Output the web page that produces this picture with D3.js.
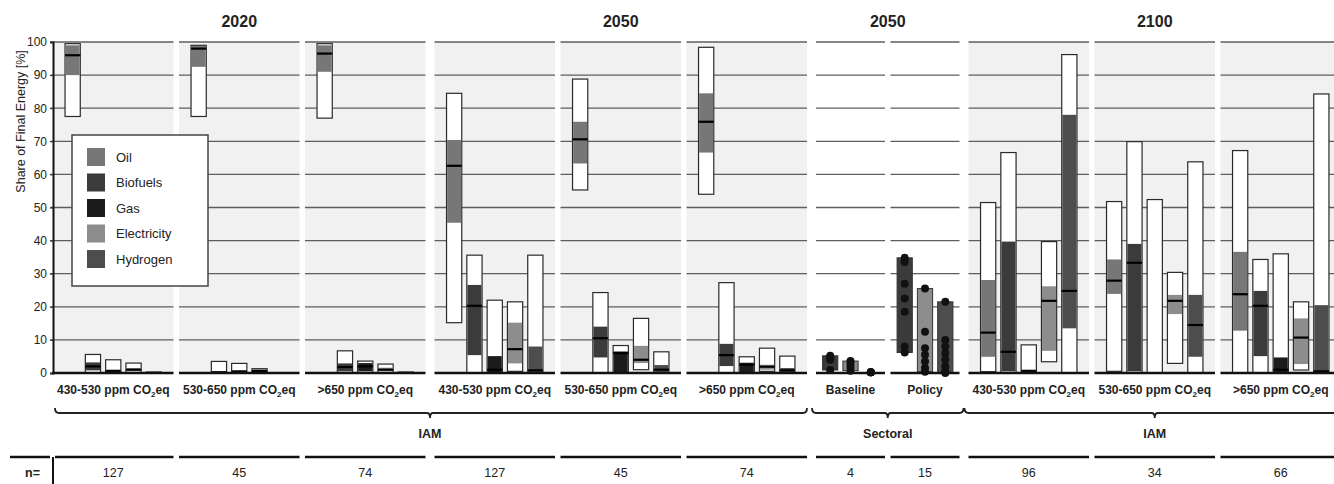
<!DOCTYPE html>
<html><head><meta charset="utf-8">
<script src="https://cdn.jsdelivr.net/npm/d3@7"></script>
<style>
body{margin:0;background:#fff;}
svg{display:block;font-family:"Liberation Sans",Arial,sans-serif;}
</style></head><body>
<svg id="chart" width="1334" height="484"></svg>
<script>
// ---------------- DATA ----------------
const fuels = ["Oil", "Biofuels", "Gas", "Electricity", "Hydrogen"];
const sectoralFuels = ["Biofuels", "Electricity", "Hydrogen"];
const yTicks = [0, 10, 20, 30, 40, 50, 60, 70, 80, 90, 100];

const panelTitles = ["2020", "2050", "2050", "2100"];
const groupPanel = [0, 0, 0, 1, 1, 1, 2, 2, 3, 3, 3];
const groupLabels = ["430-530 ppm CO|eq", "530-650 ppm CO|eq", ">650 ppm CO|eq",
                     "430-530 ppm CO|eq", "530-650 ppm CO|eq", ">650 ppm CO|eq",
                     "Baseline", "Policy",
                     "430-530 ppm CO|eq", "530-650 ppm CO|eq", ">650 ppm CO|eq"];
const nValues = [127, 45, 74, 127, 45, 74, 4, 15, 96, 34, 66];

// box stats per fuel: [min, q25, median, q75, max]  (% of final energy)
const iam2020_430 = [[77.5, 90, 96, 99, 99.5], [0, 0.8, 2, 3.2, 5.6], [0, 0.2, 0.5, 1, 4.0], [0, 0.5, 1, 1.5, 3.0], [0, 0, 0, 0.2, 0.3]];
const iam2020_530 = [[77.5, 92.5, 98, 98.8, 99], [0, 0, 0.2, 0.5, 3.5], [0, 0.2, 0.4, 0.8, 2.9], [0, 0.3, 0.6, 1.2, 1.3], [0, 0, 0, 0, 0]];
const iam2020_650 = [[77, 91, 96.5, 99, 99.5], [0, 0.5, 1.8, 2.9, 6.7], [0, 0.5, 2, 3, 3.6], [0, 0.5, 1, 1.6, 2.7], [0, 0, 0, 0.2, 0.3]];
const iam2050_430 = [[15.2, 45.4, 62.6, 70.4, 84.5], [0, 5.4, 20.3, 26.6, 35.6], [0, 0, 1, 5.1, 22], [0.5, 2.9, 7.2, 15.2, 21.5], [0, 0, 0.8, 8, 35.6]];
const iam2050_530 = [[55.3, 63.3, 70.6, 75.9, 88.8], [0, 4.7, 10.5, 14, 24.3], [0, 0, 6, 6.5, 8.3], [1, 3, 4, 8.2, 16.5], [0, 0, 1, 2.4, 6.4]];
const iam2050_650 = [[54, 66.6, 75.9, 84.5, 98.4], [0, 2.1, 5.4, 8.8, 27.3], [0, 0.3, 2.5, 3.1, 4.9], [0.5, 1, 1.9, 2.5, 7.5], [0, 0, 0.8, 1.5, 5.1]];
const iam2100_430 = [[0.4, 4.9, 12.2, 28.1, 51.5], [0, 0.5, 6.4, 39.7, 66.6], [0, 0, 0.5, 1, 8.5], [3.4, 6.7, 21.8, 26.2, 39.7], [0, 13.5, 24.8, 78, 96.2]];
const iam2100_530 = [[0.5, 23.9, 27.9, 34.3, 51.8], [0, 0.5, 33.3, 39, 69.9], [0, 0, 0, 0.3, 52.4], [2.9, 17.8, 21.8, 23.6, 30.4], [0, 4.9, 14.5, 23.6, 63.8]];
const iam2100_650 = [[0, 12.8, 23.8, 36.6, 67.2], [0, 5.1, 20.3, 24.8, 34.3], [0, 0, 1, 4.7, 36], [0.9, 2.7, 10.7, 16.5, 21.5], [0, 0, 0.5, 20.5, 84.3]];

// sectoral studies: individual values per fuel (Biofuels, Electricity, Hydrogen)
const sectoralBaseline = [[5.2, 4.6, 4.0, 0.9], [3.6, 2.8, 1.8, 0.7], [0.2, 0.2, 0.2, 0.2]];
const sectoralPolicy = [[34.8, 33.5, 27, 22.5, 18.5, 8, 6.2], [25.5, 12.5, 7.5, 5.5, 3.5, 1.5, 0.4], [21.5, 10, 8, 6, 4, 2, 0.5, 0]];

const brackets = [{ label: "IAM", from: 0, to: 5 }, { label: "Sectoral", from: 6, to: 7 }, { label: "IAM", from: 8, to: 10 }];

const fuelColors = { Oil: "#777777", Biofuels: "#3b3b3b", Gas: "#1b1b1b", Electricity: "#8d8d8d", Hydrogen: "#4d4d4d" };

// ---------------- TABLE ----------------
const iamStats = [iam2020_430, iam2020_530, iam2020_650, iam2050_430, iam2050_530, iam2050_650,
                  null, null, iam2100_430, iam2100_530, iam2100_650];
const sectoralStats = { 6: sectoralBaseline, 7: sectoralPolicy };
const groups = groupLabels.map((label, i) => ({
  label, panel: groupPanel[i], n: nValues[i],
  sectoral: iamStats[i] === null,
  fuels: iamStats[i] === null ? sectoralFuels : fuels,
  stats: iamStats[i], dots: sectoralStats[i]
}));

// ---------------- LAYOUT ----------------
const svg = d3.select("#chart");
const X0 = 53, W_IAM = 120.5, W_SEC = 69, GAP_IN = 5.5, GAP_OUT = 9, STEP = 20.3;
let cur = X0;
groups.forEach((g, i) => {
  if (i > 0) cur += (g.panel !== groups[i - 1].panel) ? GAP_OUT : GAP_IN;
  g.x0 = cur; g.x1 = cur + (g.sectoral ? W_SEC : W_IAM); cur = g.x1;
  g.cx = (g.x0 + g.x1) / 2;
  const nb = g.fuels.length;
  g.band = d3.scaleBand().domain(g.fuels)
    .range([g.cx - nb * STEP / 2, g.cx + nb * STEP / 2])
    .paddingInner(0.25).paddingOuter(0.125);
});

const y = d3.scaleLinear().domain([0, 100]).range([373, 42]);

// background wash for IAM panels
svg.append("g").selectAll("rect").data(groups.filter(g => !g.sectoral)).join("rect")
  .attr("x", g => g.x0).attr("width", g => g.x1 - g.x0)
  .attr("y", y(100)).attr("height", y(0) - y(100))
  .attr("fill", "#f1f1f1");

// gridlines per group
const grid = svg.append("g");
groups.forEach((g, i) => {
  grid.selectAll(null).data(yTicks.filter(t => t > 0)).join("line")
    .attr("x1", i === 0 ? X0 - 3 : g.x0).attr("x2", g.x1)
    .attr("y1", t => y(t)).attr("y2", t => y(t))
    .attr("stroke", "#5e5e5e").attr("stroke-width", 1.3);
});

// y axis
const yAxis = svg.append("g").attr("transform", `translate(${X0},0)`)
  .call(d3.axisLeft(y).tickValues(yTicks).tickSize(3).tickPadding(3));
yAxis.select(".domain").attr("stroke", "#111").attr("stroke-width", 2);
yAxis.selectAll(".tick line").attr("stroke", "#333");
yAxis.selectAll(".tick text").attr("font-size", 12).attr("fill", "#222")
  .attr("font-family", "Liberation Sans, Arial, sans-serif");

svg.append("text")
  .attr("transform", `translate(25,${(y(100) + y(52)) / 2}) rotate(-90)`)
  .attr("text-anchor", "middle").attr("font-size", 12.5).attr("fill", "#222")
  .text("Share of Final Energy [%]");

// boxes (IAM)
const marks = svg.append("g");
groups.filter(g => !g.sectoral).forEach(g => {
  g.fuels.forEach((f, k) => {
    const [mn, q1, md, q3, mx] = g.stats[k];
    if (mx <= 0) return;
    const bx = g.band(f), bw = g.band.bandwidth();
    marks.append("rect").attr("x", bx).attr("width", bw)
      .attr("y", y(mx)).attr("height", Math.max(0.8, y(mn) - y(mx)))
      .attr("fill", "#fff").attr("stroke", "#2a2a2a").attr("stroke-width", 1.2);
    if (q3 > q1) marks.append("rect").attr("x", bx + 0.6).attr("width", bw - 1.2)
      .attr("y", y(q3)).attr("height", y(q1) - y(q3))
      .attr("fill", fuelColors[f]);
    if (md > 0) marks.append("line").attr("x1", bx).attr("x2", bx + bw)
      .attr("y1", y(md)).attr("y2", y(md))
      .attr("stroke", "#000").attr("stroke-width", 2.2);
  });
});

// sectoral ranges + dots
groups.filter(g => g.sectoral).forEach(g => {
  g.fuels.forEach((f, k) => {
    const vals = g.dots[k];
    const [mn, mx] = d3.extent(vals);
    const bx = g.band(f), bw = g.band.bandwidth();
    if (mx - mn > 0.5) marks.append("rect").attr("x", bx).attr("width", bw)
      .attr("y", y(mx)).attr("height", y(mn) - y(mx))
      .attr("fill", fuelColors[f]).attr("stroke", "#333").attr("stroke-width", 1);
    marks.selectAll(null).data(vals).join("circle")
      .attr("cx", bx + bw / 2).attr("cy", v => y(v)).attr("r", 4)
      .attr("fill", "#111");
  });
});

// zero lines per group
groups.forEach((g, i) => {
  svg.append("line").attr("x1", i === 0 ? X0 - 1 : g.x0).attr("x2", g.x1)
    .attr("y1", y(0)).attr("y2", y(0))
    .attr("stroke", "#111").attr("stroke-width", 2.6);
});

// panel titles
panelTitles.forEach((t, p) => {
  const gs = groups.filter(g => g.panel === p);
  svg.append("text").attr("x", (gs[0].x0 + gs[gs.length - 1].x1) / 2).attr("y", 27)
    .attr("text-anchor", "middle").attr("font-size", 16).attr("font-weight", "bold")
    .attr("fill", "#222").text(t);
});

// group labels
groups.forEach(g => {
  const t = svg.append("text").attr("x", g.cx).attr("y", 394)
    .attr("text-anchor", "middle").attr("font-size", 12).attr("font-weight", "bold")
    .attr("fill", "#222");
  const parts = g.label.split("|");
  t.append("tspan").text(parts[0]);
  if (parts.length > 1) {
    t.append("tspan").attr("font-size", 8).attr("dy", 3).text("2");
    t.append("tspan").attr("dy", -3).text(parts[1]);
  }
});

// brackets
brackets.forEach((b, i) => {
  const xa = groups[b.from].x0 + (i === 0 ? 2 : -4);
  const xb = i === brackets.length - 1 ? 1345 : groups[b.to].x1 + (i === 0 ? 0 : 4);
  const gs = groups.slice(b.from, b.to + 1);
  const cx = i === brackets.length - 1 ? gs[1].cx : (gs[0].x0 + gs[gs.length - 1].x1) / 2;
  const yb = 413;
  const p = d3.path();
  p.moveTo(xa, yb - 5); p.quadraticCurveTo(xa, yb, xa + 4, yb);
  p.lineTo(cx - 3, yb); p.quadraticCurveTo(cx, yb, cx, yb + 5);
  p.quadraticCurveTo(cx, yb, cx + 3, yb);
  p.lineTo(xb - 4, yb); p.quadraticCurveTo(xb, yb, xb, yb - 5);
  svg.append("path").attr("d", p.toString()).attr("fill", "none")
    .attr("stroke", "#222").attr("stroke-width", 1.8);
  svg.append("text").attr("x", cx).attr("y", 438).attr("text-anchor", "middle")
    .attr("font-size", 12.5).attr("font-weight", "bold").attr("fill", "#222").text(b.label);
});

// n row
svg.append("line").attr("x1", 10).attr("x2", X0 - 3).attr("y1", 457).attr("y2", 457)
  .attr("stroke", "#111").attr("stroke-width", 2.6);
svg.append("line").attr("x1", X0).attr("x2", X0).attr("y1", 457).attr("y2", 484)
  .attr("stroke", "#111").attr("stroke-width", 2);
svg.append("text").attr("x", 25).attr("y", 477).attr("font-size", 12.5)
  .attr("font-weight", "bold").attr("fill", "#222").text("n=");
groups.forEach((g, i) => {
  svg.append("line").attr("x1", i === 0 ? X0 + 2 : g.x0).attr("x2", g.x1)
    .attr("y1", 457).attr("y2", 457).attr("stroke", "#111").attr("stroke-width", 2.6);
  svg.append("text").attr("x", g.cx).attr("y", 477).attr("text-anchor", "middle")
    .attr("font-size", 12.5).attr("fill", "#222").text(g.n);
});

// legend
const lg = svg.append("g").attr("transform", "translate(72,135)");
lg.append("rect").attr("width", 136).attr("height", 151).attr("fill", "#fff")
  .attr("stroke", "#444").attr("stroke-width", 1.5);
const ly = d3.scalePoint().domain(fuels).range([22, 124]);
fuels.forEach(f => {
  lg.append("rect").attr("x", 15).attr("y", ly(f) - 9).attr("width", 18).attr("height", 18)
    .attr("fill", fuelColors[f]);
  lg.append("text").attr("x", 44).attr("y", ly(f)).attr("dy", "0.35em")
    .attr("font-size", 13).attr("fill", "#222").text(f);
});
</script>
</body></html>
